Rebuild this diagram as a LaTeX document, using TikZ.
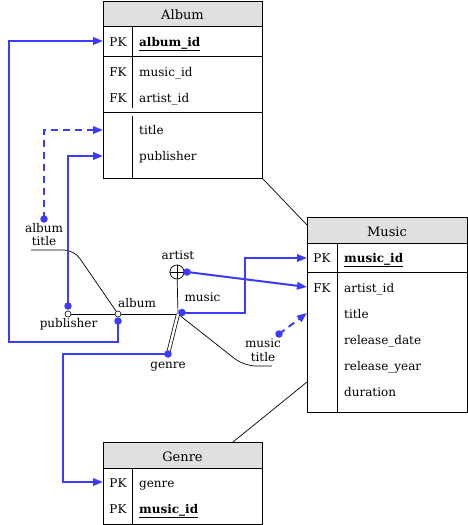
\documentclass[tikz,border=0pt]{standalone}
\usepackage{fontspec}
\setmainfont{DejaVu Serif}
\usetikzlibrary{arrows.meta}
\definecolor{fkblue}{RGB}{60,60,255}
\definecolor{hdrgray}{RGB}{224,224,224}
\begin{document}
\begin{tikzpicture}[x=1pt,y=-1pt,
  tblbox/.style={draw, line width=1pt, inner sep=0, anchor=north west},
  hdrtext/.style={font=\fontsize{13}{15}\selectfont, anchor=base, inner sep=0},
  fld/.style={font=\fontsize{12}{14}\selectfont, anchor=base west, inner sep=0},
  keytxt/.style={font=\fontsize{12}{14}\selectfont, anchor=base, inner sep=0},
  lbl/.style={font=\fontsize{12}{14}\selectfont, anchor=base, inner sep=0},
  rowline/.style={line width=1pt},
  colline/.style={line width=0.9pt},
  link/.style={draw=fkblue, line width=2pt},
  fkarrow/.style={link, -{Triangle[length=10pt,width=7.5pt]}},
  fkdash/.style={fkarrow, dash pattern=on 7pt off 5pt},
  bdot/.style={circle, fill=fkblue, inner sep=0, minimum size=7.5pt},
  hollow/.style={circle, draw, fill=white, inner sep=0, minimum size=6pt, line width=0.6pt},
  thinline/.style={line width=0.7pt}]
\useasboundingbox (0,0) rectangle (468,525);

% ---------- Album table ----------
\fill[hdrgray] (103,1) rectangle (262,26);
\node[tblbox, minimum width=159pt, minimum height=177pt] (Album) at (103,1) {};
\draw[rowline] (103,26) -- (262,26) (103,56) -- (262,56) (103,112) -- (262,112);
\draw[colline] (132,26) -- (132,108) (132,116) -- (132,178);
\node[hdrtext] (albumH) at (182.5,19) {Album};
\node[keytxt] (aPK) at (118,46) {PK};
\node[fld] (aId) at (139,46) {\underline{\textbf{album\_id}}};
\node[keytxt] (aFK1) at (118,76) {FK};
\node[fld] (aMus) at (139,76) {music\_id};
\node[keytxt] (aFK2) at (118,102) {FK};
\node[fld] (aArt) at (139,102) {artist\_id};
\node[fld] (aTitle) at (139,134.5) {title};
\node[fld] (aPub) at (139,160.5) {publisher};
\coordinate (inAlbumPK) at (103,41);
\coordinate (inAlbumTitle) at (103,130);
\coordinate (inAlbumPub) at (103,156);

% ---------- Music table ----------
\fill[hdrgray] (307,217) rectangle (467,243);
\node[tblbox, minimum width=160pt, minimum height=195pt] (Music) at (307,217) {};
\draw[rowline] (307,243) -- (467,243) (307,272) -- (467,272);
\draw[colline] (337,243) -- (337,412);
\node[hdrtext] (musicH) at (387,236) {Music};
\node[keytxt] (mPK) at (322,262) {PK};
\node[fld] (mId) at (344,262) {\underline{\textbf{music\_id}}};
\node[keytxt] (mFK) at (322,292) {FK};
\node[fld] (mArt) at (344,292) {artist\_id};
\node[fld] (mTitle) at (344,318) {title};
\node[fld] (mDate) at (344,344) {release\_date};
\node[fld] (mYear) at (344,370) {release\_year};
\node[fld] (mDur) at (344,396) {duration};
\coordinate (inMusicPK) at (307,258);
\coordinate (inMusicFK) at (307,287);
\coordinate (inMusicTitle) at (307,313);

% ---------- Genre table ----------
\fill[hdrgray] (103,442) rectangle (262,468);
\node[tblbox, minimum width=159pt, minimum height=82pt] (Genre) at (103,442) {};
\draw[rowline] (103,468) -- (262,468);
\draw[colline] (132,468) -- (132,524);
\node[hdrtext] (genreH) at (182.5,461) {Genre};
\node[keytxt] (gPK1) at (118,487) {PK};
\node[fld] (gGen) at (139,487) {genre};
\node[keytxt] (gPK2) at (118,513) {PK};
\node[fld] (gMus) at (139,513) {\underline{\textbf{music\_id}}};
\coordinate (inGenrePK) at (103,482);

% ---------- table relations ----------
\coordinate (mTop) at (307,225);
\coordinate (mLow) at (307,382);
\coordinate (gTop) at (233,442);
\draw[thinline] (Album.south east) -- (mTop);
\draw[thinline] (mLow) -- (gTop);

% ---------- joins ----------
\coordinate (j) at (178,314);
\coordinate (atEnd) at (31,250);
\coordinate (mtEnd) at (272,366);
\node[hollow] (pubJ) at (68,314) {};
\node[hollow] (albJ) at (118,314) {};
\node[circle, draw, fill=white, inner sep=0, minimum size=14pt, line width=0.7pt] (artJ) at (177,272) {};

\draw[thinline] (pubJ) -- (albJ) -- (j);
\draw[thinline] (artJ) -- (j);
\draw[thinline, rounded corners=10pt] (atEnd) -- (74,250) -- (albJ);
\draw[thinline, rounded corners=12pt] (j) -- (244,366) -- (mtEnd);
\draw[double, double distance=2.5pt, line width=0.7pt] (j) -- (168,354);
\draw[line width=0.7pt] (artJ.north) -- (artJ.south) (artJ.west) -- (artJ.east);

% ---------- labels ----------
\node[lbl] (lAlbT1) at (44,232) {album};
\node[lbl] (lAlbT2) at (44,245.5) {title};
\node[lbl] (lPub) at (68.5,327) {publisher};
\node[lbl] (lAlb) at (137,307) {album};
\node[lbl] (lArt) at (178,259) {artist};
\node[lbl] (lMus) at (202.5,301) {music};
\node[lbl] (lGen) at (168,368) {genre};
\node[lbl] (lMT1) at (263,347) {music};
\node[lbl] (lMT2) at (263,361) {title};

% ---------- blue dots ----------
\node[bdot] (dAlb) at (118,321) {};
\node[bdot] (dPub) at (68,306) {};
\node[bdot] (dAT) at (44,219) {};
\node[bdot] (dArt) at (187,272) {};
\node[bdot] (dMus) at (182,312.5) {};
\node[bdot] (dMT) at (279,334) {};
\node[bdot] (dGen) at (168,354) {};

% ---------- foreign key links ----------
\draw[fkarrow] (dAlb.center) -- (118,342) -- (9,342) -- (9,41) -- (inAlbumPK);
\draw[fkdash] (dAT.center) -- (44,130) -- (inAlbumTitle);
\draw[fkarrow] (dPub.center) -- (68,156) -- (inAlbumPub);
\draw[fkarrow] (dArt.center) -- (inMusicFK);
\draw[fkarrow] (dMus.center) -- (245,312.5) -- (245,258) -- (inMusicPK);
\draw[fkdash] (dMT.center) -- (inMusicTitle);
\draw[fkarrow] (dGen.center) -- (63,354) -- (63,482) -- (inGenrePK);
\end{tikzpicture}
\end{document}
